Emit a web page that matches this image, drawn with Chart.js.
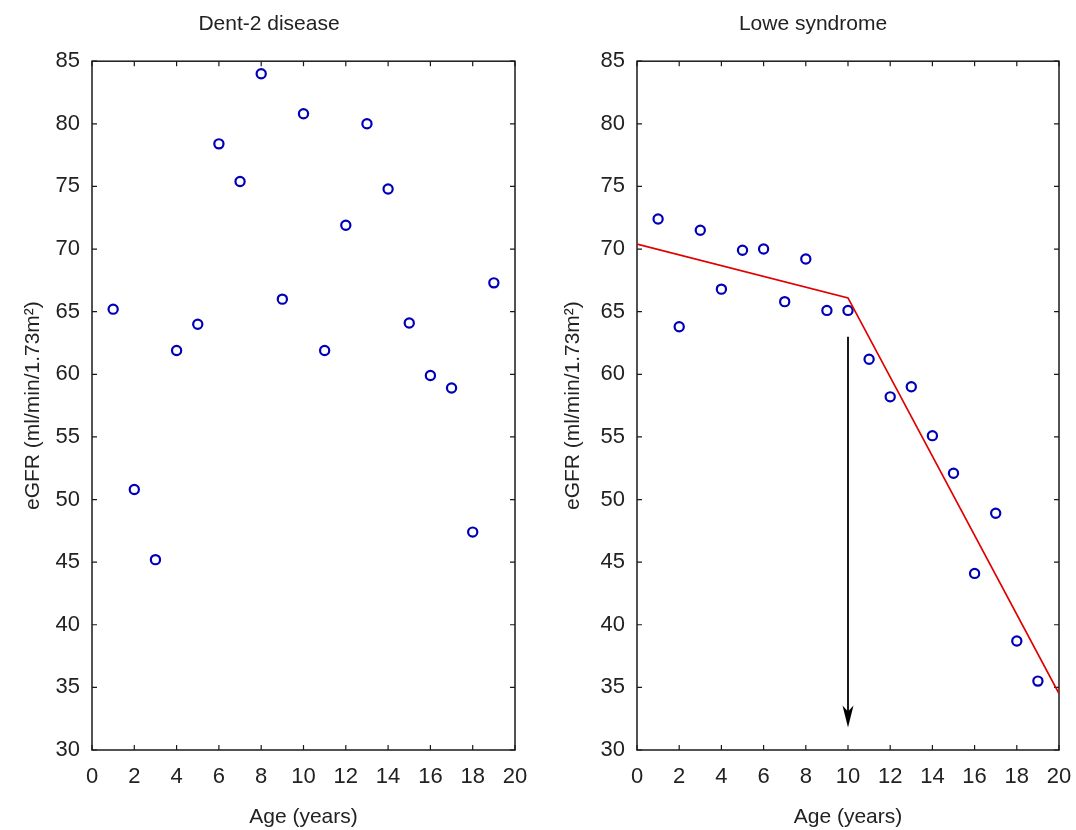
<!DOCTYPE html>
<html>
<head>
<meta charset="utf-8">
<script src="https://cdn.jsdelivr.net/npm/chart.js@4.4.1/dist/chart.umd.min.js"></script>
<style>
  body { margin: 0; background: #fff; }
  .panel { position: absolute; top: 0; width: 538px; height: 830px; }
</style>
</head>
<body>
<div class="panel" style="left:0"><canvas id="dentChart"></canvas></div>
<div class="panel" style="left:538px"><canvas id="loweChart"></canvas></div>
<script>
// ages in years, eGFR in ml/min/1.73m2
const ages = [1, 2, 3, 4, 5, 6, 7, 8, 9, 10, 11, 12, 13, 14, 15, 16, 17, 18, 19];
const dentEGFR = [65.2, 50.8, 45.2, 61.9, 64.0, 78.4, 75.4, 84.0, 66.0, 80.8, 61.9, 71.9, 80.0, 74.8, 64.1, 59.9, 58.9, 47.4, 67.3];
const loweEGFR = [72.4, 63.8, 71.5, 66.8, 69.9, 70.0, 65.8, 69.2, 65.1, 65.1, 61.2, 58.2, 59.0, 55.1, 52.1, 44.1, 48.9, 38.7, 35.5];

// broken-stick fit for Lowe syndrome
const fitAges = [0, 10, 20];
const fitEGFR = [70.4, 66.1, 34.5];

// arrow marking the break point
const arrowAge = 10;
const arrowFrom = 63;
const arrowTo = 31.8;

const FONT = "'Liberation Sans', Arial, sans-serif";

function toPoints(xs, ys) {
  return xs.map((x, i) => ({ x: x, y: ys[i] }));
}

// box round the plot with inward ticks on all four sides
const frameTicks = {
  id: "frameTicks",
  beforeDatasetsDraw(chart) {
    const { ctx, chartArea: a, scales } = chart;
    ctx.save();
    ctx.strokeStyle = "#1a1a1a";
    ctx.lineWidth = 1.5;
    ctx.strokeRect(a.left, a.top, a.right - a.left, a.bottom - a.top);
    ctx.lineWidth = 1.2;
    ctx.beginPath();
    scales.x.ticks.forEach(t => {
      const px = scales.x.getPixelForValue(t.value);
      ctx.moveTo(px, a.bottom); ctx.lineTo(px, a.bottom - 5);
      ctx.moveTo(px, a.top); ctx.lineTo(px, a.top + 5);
    });
    scales.y.ticks.forEach(t => {
      const py = scales.y.getPixelForValue(t.value);
      ctx.moveTo(a.left, py); ctx.lineTo(a.left + 5, py);
      ctx.moveTo(a.right, py); ctx.lineTo(a.right - 5, py);
    });
    ctx.stroke();
    ctx.restore();
  }
};

// dart-shaped head at the end of the arrow dataset
const arrowHead = {
  id: "arrowHead",
  afterDatasetsDraw(chart) {
    if (!chart.options.plugins.arrowHead.show) return;
    const { ctx, scales } = chart;
    const px = scales.x.getPixelForValue(arrowAge);
    const tip = scales.y.getPixelForValue(arrowTo);
    ctx.save();
    ctx.fillStyle = "#000";
    ctx.beginPath();
    ctx.moveTo(px, tip);
    ctx.lineTo(px - 5.5, tip - 22);
    ctx.lineTo(px, tip - 16);
    ctx.lineTo(px + 5.5, tip - 22);
    ctx.closePath();
    ctx.fill();
    ctx.restore();
  }
};

function makeOptions(title, pad) {
  return {
    responsive: true,
    maintainAspectRatio: false,
    animation: false,
    layout: { padding: { left: pad.left, right: 0, top: 0, bottom: 0 } },
    plugins: {
      legend: { display: false },
      tooltip: { enabled: false },
      arrowHead: { show: pad.arrow },
      title: {
        display: true,
        text: title,
        color: "#222",
        font: { family: FONT, size: 21, weight: "normal" },
        padding: { top: 12, bottom: 24 }
      }
    },
    scales: {
      x: {
        type: "linear",
        min: 0,
        max: 20,
        grid: { display: false, drawTicks: false },
        border: { display: false },
        ticks: { stepSize: 2, padding: 3, color: "#222", font: { family: FONT, size: 22, lineHeight: 2.2 } },
        title: {
          display: true,
          text: "Age (years)",
          color: "#222",
          font: { family: FONT, size: 21 },
          padding: { top: 0, bottom: 0 }
        },
        afterFit(scale) { scale.height = 80; }
      },
      y: {
        type: "linear",
        min: 30,
        max: 85,
        grid: { display: false, drawTicks: false },
        border: { display: false },
        ticks: { stepSize: 5, padding: 12, color: "#222", font: { family: FONT, size: 22 } },
        title: {
          display: true,
          text: "eGFR (ml/min/1.73m²)",
          color: "#222",
          font: { family: FONT, size: 21 },
          padding: { top: pad.titleGap, bottom: 0 }
        },
        afterFit(scale) { scale.width = pad.yWidth; }
      },
      y2: {
        type: "linear",
        position: "right",
        grid: { display: false, drawTicks: false },
        border: { display: false },
        ticks: { display: false },
        afterFit(scale) { scale.width = pad.rightWidth; }
      }
    }
  };
}

const pointStyle = {
  showLine: false,
  pointStyle: "circle",
  pointRadius: 4.6,
  pointBorderWidth: 2.2,
  pointBorderColor: "#0000b8",
  pointBackgroundColor: "rgba(0,0,0,0)"
};

new Chart(document.getElementById("dentChart"), {
  type: "scatter",
  data: {
    datasets: [
      Object.assign({ label: "Dent-2 disease", data: toPoints(ages, dentEGFR) }, pointStyle)
    ]
  },
  options: makeOptions("Dent-2 disease", { left: 0, yWidth: 92, rightWidth: 23, titleGap: 21, arrow: false }),
  plugins: [frameTicks, arrowHead]
});

new Chart(document.getElementById("loweChart"), {
  type: "scatter",
  data: {
    datasets: [
      {
        label: "Fit",
        data: toPoints(fitAges, fitEGFR),
        showLine: true,
        borderColor: "#e00000",
        borderWidth: 1.7,
        pointRadius: 0,
        tension: 0
      },
      {
        label: "Break",
        data: [{ x: arrowAge, y: arrowFrom }, { x: arrowAge, y: arrowTo + 1.2 }],
        showLine: true,
        borderColor: "#000",
        borderWidth: 1.8,
        pointRadius: 0
      },
      Object.assign({ label: "Lowe syndrome", data: toPoints(ages, loweEGFR) }, pointStyle)
    ]
  },
  options: makeOptions("Lowe syndrome", { left: 12, yWidth: 87, rightWidth: 17, titleGap: 10.5, arrow: true }),
  plugins: [frameTicks, arrowHead]
});
</script>
</body>
</html>
